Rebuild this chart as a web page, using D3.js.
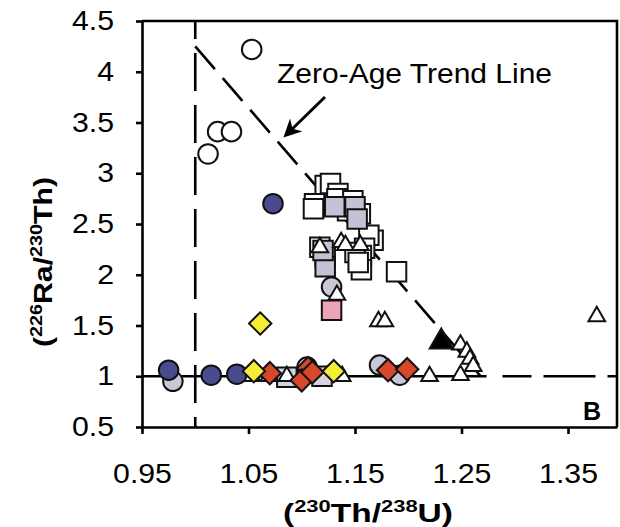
<!DOCTYPE html>
<html>
<head>
<meta charset="utf-8">
<script src="https://cdn.jsdelivr.net/npm/d3@7"></script>
<style>
  html, body { margin: 0; padding: 0; background: #fff; }
  svg { display: block; font-family: "Liberation Sans", Arial, Helvetica, sans-serif; }
</style>
</head>
<body>
<svg id="chart" width="620" height="527"></svg>
<script>
// Axis ticks
const xTicks = [0.95, 1.05, 1.15, 1.25, 1.35];
const yTicks = [0.5, 1, 1.5, 2, 2.5, 3, 3.5, 4, 4.5];

// Samples: [(230Th/238U), (226Ra/230Th)]
const openCircles = [[1.053, 4.22], [1.021, 3.41], [1.034, 3.41], [1.012, 3.19]];
const navyCircles = [[1.073, 2.70], [0.975, 1.06], [1.015, 1.01], [1.039, 1.02]];
const greyCircles = [[0.979, 0.95], [1.128, 1.88], [1.173, 1.11], [1.192, 1.01], [1.105, 1.09]];
const openSquares = [
  [1.122, 2.88], [1.127, 2.90], [1.134, 2.80], [1.112, 2.70], [1.133, 2.75], [1.148, 2.73],
  [1.111, 2.65], [1.155, 2.60], [1.167, 2.34], [1.163, 2.39], [1.159, 2.26], [1.156, 2.19],
  [1.156, 2.05], [1.189, 2.03], [1.117, 2.27], [1.150, 2.22], [1.153, 2.12], [1.122, 2.18],
  [1.143, 2.63]
];
const greySquares = [[1.131, 2.67], [1.150, 2.67], [1.152, 2.55], [1.122, 2.08], [1.120, 2.24]];
const pinkSquares = [[1.128, 1.65]];
const greyRects = [[1.086, 0.99], [1.119, 1.00]];
const openTriangles = [
  [1.377, 1.59], [1.172, 1.54], [1.178, 1.54], [1.220, 1.00], [1.249, 1.01],
  [1.249, 1.31], [1.255, 1.24], [1.258, 1.17], [1.261, 1.10],
  [1.053, 1.00], [1.069, 1.00], [1.086, 1.00], [1.138, 1.00], [1.133, 1.80],
  [1.117, 2.27], [1.137, 2.32], [1.141, 2.29], [1.155, 2.29]
];
const blackTriangles = [[1.231, 1.34]];
const redDiamonds = [[1.070, 1.03], [1.106, 1.08], [1.100, 0.96], [1.110, 1.04], [1.181, 1.06], [1.199, 1.07]];
const yellowDiamonds = [[1.061, 1.52], [1.055, 1.05], [1.130, 1.05]];

// Reference lines
const equilineSolid = [[0.95, 1], [1.2735, 1]];
const equilineDashed = [[1.2885, 1], [1.396, 1]];
const secularLine = [[1.0, 0.5], [1.0, 4.5]];
const zeroAgeLine = [[1.0, 4.25], [1.268, 1.0]];

const svg = d3.select("#chart");
const x = d3.scaleLinear().domain([0.95, 1.396]).range([142, 617]);
const y = d3.scaleLinear().domain([0.5, 4.5]).range([427, 21]);
const line = d3.line().x(d => x(d[0])).y(d => y(d[1]));

// Frame (top and right)
svg.append("path")
  .attr("d", line([[0.95, 4.5], [1.396, 4.5], [1.396, 0.5]]))
  .attr("fill", "none").attr("stroke", "#000").attr("stroke-width", 2.6);

// Reference lines
svg.append("path").attr("d", line(secularLine))
  .attr("stroke", "#000").attr("stroke-width", 2.6).attr("stroke-dasharray", "38,14").attr("stroke-dashoffset", 28);
svg.append("path").attr("d", line(equilineSolid))
  .attr("stroke", "#000").attr("stroke-width", 2.6);
svg.append("path").attr("d", line(equilineDashed))
  .attr("stroke", "#000").attr("stroke-width", 2.6).attr("stroke-dasharray", "52,12").attr("stroke-dashoffset", 23);
svg.append("path").attr("d", line(zeroAgeLine))
  .attr("stroke", "#000").attr("stroke-width", 2.6).attr("stroke-dasharray", "30,12");

// Markers
const sym = (type, size) => d3.symbol().type(type).size(size)();
function plot(data, shape, size, fill, rotate, sw) {
  svg.append("g").selectAll("path").data(data).join("path")
    .attr("d", sym(shape, size))
    .attr("transform", d => `translate(${x(d[0])},${y(d[1])})` + (rotate ? " rotate(45)" : ""))
    .attr("fill", fill).attr("stroke", "#111").attr("stroke-width", sw || 2);
}
plot(openCircles, d3.symbolCircle, 300, "#fff");
plot(openSquares, d3.symbolSquare, 380, "#fff");
plot(greySquares, d3.symbolSquare, 380, "#c4c3d6");
plot(pinkSquares, d3.symbolSquare, 380, "#eea3b6");
plot(greyCircles, d3.symbolCircle, 300, "#c9c8d8");
plot(greyRects, d3.symbolSquare, 380, "#d4d3de");
plot(openTriangles, d3.symbolTriangle, 120, "#fff");
plot(blackTriangles, d3.symbolTriangle, 230, "#000");
plot(navyCircles, d3.symbolCircle, 300, "#4a4a8e");
plot(redDiamonds, d3.symbolSquare, 250, "#d8462c", true);
plot(yellowDiamonds, d3.symbolSquare, 250, "#f4ee36", true);

// Axes
const xAxis = svg.append("g").attr("transform", `translate(0,${y(0.5)})`)
  .call(d3.axisBottom(x).tickValues(xTicks).tickSize(7).tickSizeOuter(0).tickPadding(30)
    .tickFormat(d3.format(".2f")));
const yAxis = svg.append("g").attr("transform", `translate(${x(0.95)},0)`)
  .call(d3.axisLeft(y).tickValues(yTicks).tickSize(6).tickSizeOuter(0).tickPadding(22)
    .tickFormat(d => String(d)));
[xAxis, yAxis].forEach(a => {
  a.select(".domain").attr("stroke-width", 2.6);
  a.selectAll(".tick line").attr("stroke-width", 2.6);
  a.selectAll(".tick text").attr("font-size", 27).attr("fill", "#000")
    .attr("font-family", "'Liberation Sans', Arial, sans-serif");
});
// slightly wider tick label glyphs
svg.selectAll(".tick text").each(function () {
  const w = this.getComputedTextLength();
  d3.select(this).attr("textLength", w * 1.12).attr("lengthAdjust", "spacingAndGlyphs");
});

// Zero-age annotation
svg.append("text").attr("x", 277).attr("y", 83).attr("font-size", 28)
  .attr("textLength", 275).attr("lengthAdjust", "spacingAndGlyphs")
  .text("Zero-Age Trend Line");
svg.append("defs").append("marker").attr("id", "head")
  .attr("viewBox", "0 0 10 10").attr("refX", 8).attr("refY", 5)
  .attr("markerWidth", 6).attr("markerHeight", 6).attr("markerUnits", "strokeWidth").attr("orient", "auto")
  .append("path").attr("d", "M0,0 L10,5 L0,10 L3,5 Z").attr("fill", "#000");
svg.append("line").attr("x1", 325).attr("y1", 97).attr("x2", 286).attr("y2", 135)
  .attr("stroke", "#000").attr("stroke-width", 3).attr("marker-end", "url(#head)");

// Panel letter
svg.append("text").attr("x", 583).attr("y", 420).attr("font-size", 25).attr("font-weight", "bold").text("B");

// Axis titles
const xt = svg.append("text").attr("x", 368).attr("y", 522).attr("text-anchor", "middle")
  .attr("font-size", 26).attr("font-weight", "bold")
  .attr("textLength", 170).attr("lengthAdjust", "spacingAndGlyphs");
xt.append("tspan").text("(");
xt.append("tspan").attr("font-size", 17).attr("dy", -10).text("230");
xt.append("tspan").attr("dy", 10).text("Th/");
xt.append("tspan").attr("font-size", 17).attr("dy", -10).text("238");
xt.append("tspan").attr("dy", 10).text("U)");

const yt = svg.append("text").attr("transform", "translate(52,262) rotate(-90)")
  .attr("text-anchor", "middle").attr("font-size", 26).attr("font-weight", "bold")
  .attr("textLength", 170).attr("lengthAdjust", "spacingAndGlyphs");
yt.append("tspan").text("(");
yt.append("tspan").attr("font-size", 17).attr("dy", -10).text("226");
yt.append("tspan").attr("dy", 10).text("Ra/");
yt.append("tspan").attr("font-size", 17).attr("dy", -10).text("230");
yt.append("tspan").attr("dy", 10).text("Th)");
</script>
</body>
</html>
